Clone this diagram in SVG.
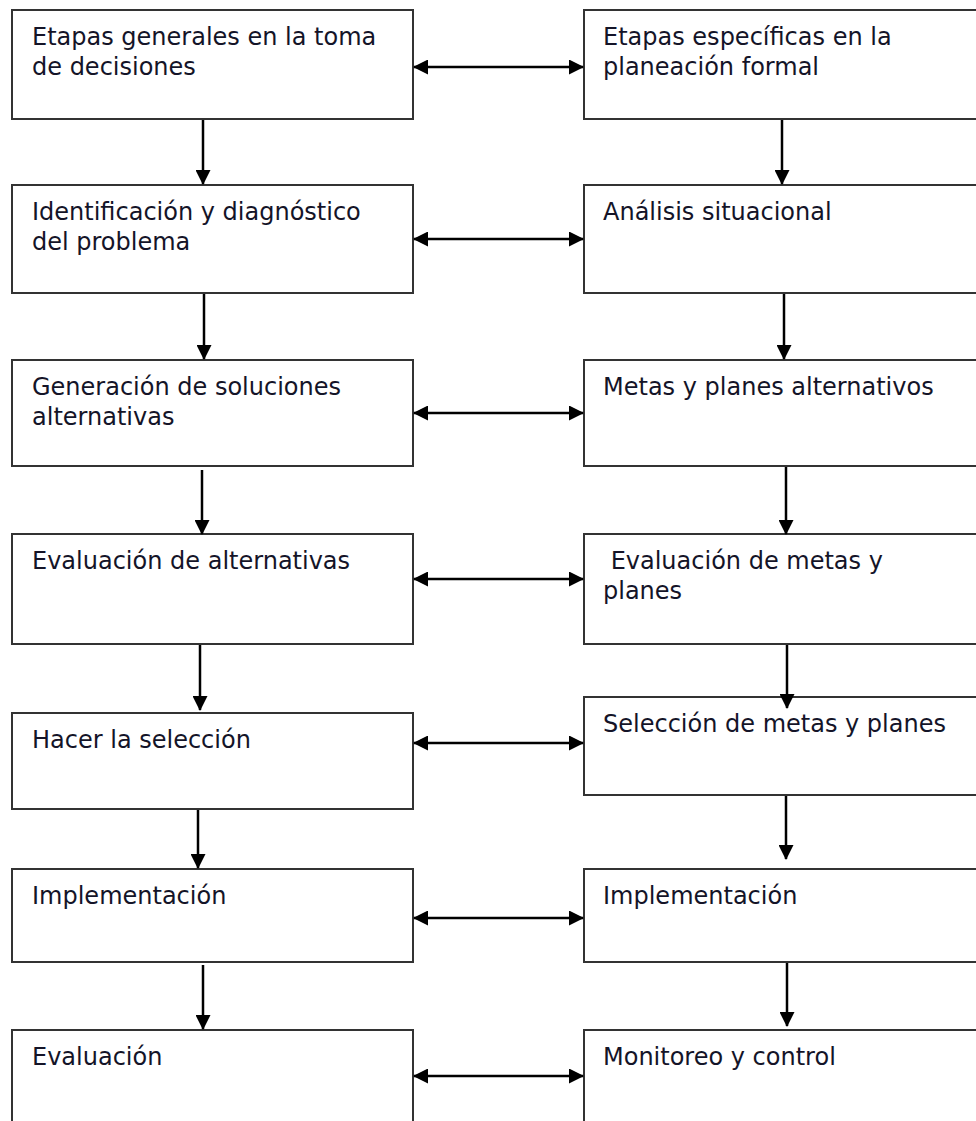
<svg xmlns="http://www.w3.org/2000/svg" width="976" height="1121" viewBox="0 0 976 1121">
<style>
.box{fill:#fff;stroke:#333;stroke-width:2}
.t{font-family:"DejaVu Sans","Liberation Sans",sans-serif;font-size:24px;fill:#141428}
.c{stroke:#000;stroke-width:2.5;fill:none}
.d{marker-start:url(#ah);marker-end:url(#ah)}
.v{marker-end:url(#ah)}
</style>
<defs>
<marker id="ah" viewBox="0 0 15 15" refX="14" refY="7.5" markerWidth="15" markerHeight="15" markerUnits="userSpaceOnUse" orient="auto-start-reverse">
<path d="M0,0 L15,7.5 L0,15 z" fill="#000"/>
</marker>
</defs>
<rect width="976" height="1121" fill="#fff"/>

<g id="n-l1"><rect class="box" x="12" y="10" width="401" height="109"/><text class="t" x="32" y="45">Etapas generales en la toma</text><text class="t" x="32" y="74.5">de decisiones</text></g>
<g id="n-r1"><rect class="box" x="584" y="10" width="410" height="109"/><text class="t" x="603" y="45">Etapas específicas en la</text><text class="t" x="603" y="74.5">planeación formal</text></g>

<g id="n-l2"><rect class="box" x="12" y="185" width="401" height="108"/><text class="t" x="32" y="220">Identificación y diagnóstico</text><text class="t" x="32" y="249.5">del problema</text></g>
<g id="n-r2"><rect class="box" x="584" y="185" width="410" height="108"/><text class="t" x="603" y="220">Análisis situacional</text></g>

<g id="n-l3"><rect class="box" x="12" y="360" width="401" height="106"/><text class="t" x="32" y="395">Generación de soluciones</text><text class="t" x="32" y="424.5">alternativas</text></g>
<g id="n-r3"><rect class="box" x="584" y="360" width="410" height="106"/><text class="t" x="603" y="395">Metas y planes alternativos</text></g>

<g id="n-l4"><rect class="box" x="12" y="534" width="401" height="110"/><text class="t" x="32" y="569">Evaluación de alternativas</text></g>
<g id="n-r4"><rect class="box" x="584" y="534" width="410" height="110"/><text class="t" x="603" y="569" xml:space="preserve"> Evaluación de metas y</text><text class="t" x="603" y="599">planes</text></g>

<g id="n-l5"><rect class="box" x="12" y="713" width="401" height="96"/><text class="t" x="32" y="748">Hacer la selección</text></g>
<g id="n-r5"><rect class="box" x="584" y="697" width="410" height="98"/><text class="t" x="603" y="732">Selección de metas y planes</text></g>

<g id="n-l6"><rect class="box" x="12" y="869" width="401" height="93"/><text class="t" x="32" y="904">Implementación</text></g>
<g id="n-r6"><rect class="box" x="584" y="869" width="410" height="93"/><text class="t" x="603" y="904">Implementación</text></g>

<g id="n-l7"><rect class="box" x="12" y="1030" width="401" height="110"/><text class="t" x="32" y="1065">Evaluación</text></g>
<g id="n-r7"><rect class="box" x="584" y="1030" width="410" height="110"/><text class="t" x="603" y="1065">Monitoreo y control</text></g>

<g id="connectors">
<line class="c d" x1="414" y1="67" x2="583" y2="67"/>
<line class="c d" x1="414" y1="239" x2="583" y2="239"/>
<line class="c d" x1="414" y1="413" x2="583" y2="413"/>
<line class="c d" x1="414" y1="579" x2="583" y2="579"/>
<line class="c d" x1="414" y1="743" x2="583" y2="743"/>
<line class="c d" x1="414" y1="918" x2="583" y2="918"/>
<line class="c d" x1="414" y1="1076" x2="583" y2="1076"/>

<line class="c v" x1="203" y1="120" x2="203" y2="184"/>
<line class="c v" x1="204" y1="294" x2="204" y2="359"/>
<line class="c v" x1="202" y1="470" x2="202" y2="534"/>
<line class="c v" x1="200" y1="645" x2="200" y2="710"/>
<line class="c v" x1="198" y1="810" x2="198" y2="868"/>
<line class="c v" x1="203" y1="965" x2="203" y2="1029"/>

<line class="c v" x1="782" y1="120" x2="782" y2="184"/>
<line class="c v" x1="784" y1="294" x2="784" y2="359"/>
<line class="c v" x1="786" y1="467" x2="786" y2="534"/>
<line class="c v" x1="787" y1="645" x2="787" y2="708"/>
<line class="c v" x1="786" y1="796" x2="786" y2="859"/>
<line class="c v" x1="787" y1="963" x2="787" y2="1026"/>
</g>
</svg>
